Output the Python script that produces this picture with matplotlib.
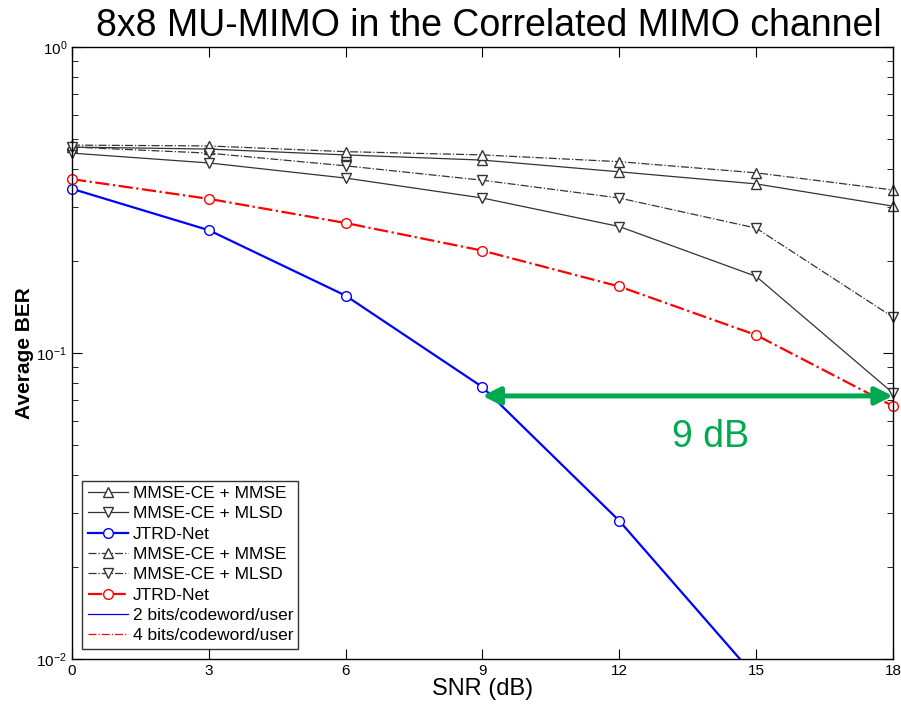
import matplotlib
matplotlib.use('Agg')
import matplotlib.pyplot as plt
import numpy as np

snr = [0, 3, 6, 9, 12, 15, 18]

# 2 bits/codeword/user (solid)
mmse_2b = [0.471, 0.464, 0.444, 0.427, 0.391, 0.357, 0.302]
mlsd_2b = [0.450, 0.418, 0.373, 0.321, 0.259, 0.178, 0.074]
jtrd_2b = [0.344, 0.252, 0.154, 0.0774, 0.0283, 0.0087]

# 4 bits/codeword/user (dash-dot)
mmse_4b = [0.478, 0.475, 0.455, 0.444, 0.422, 0.388, 0.341]
mlsd_4b = [0.471, 0.450, 0.409, 0.367, 0.321, 0.256, 0.131]
jtrd_4b = [0.370, 0.319, 0.266, 0.216, 0.165, 0.1145, 0.0671]

gap_start, gap_end, gap_ber = 9, 18, 0.0724
gap_label = "9 dB"

plt.rcParams['font.family'] = ['Liberation Sans', 'DejaVu Sans']

fig = plt.figure(figsize=(9.01, 7.09), dpi=100)
ax = fig.add_axes([0.0799, 0.0705, 0.9111, 0.8632])

gray = '#333333'
green = '#00A84F'
mk = dict(markerfacecolor='white', markersize=7, markeredgewidth=1.0)

ax.plot(snr, mmse_2b, '-', color=gray, lw=0.9, marker='^', markeredgecolor=gray,
        label='MMSE-CE + MMSE', clip_on=False, **mk)
ax.plot(snr, mlsd_2b, '-', color=gray, lw=0.9, marker='v', markeredgecolor=gray,
        label='MMSE-CE + MLSD', clip_on=False, **mk)
# blue curve runs below the axis: clip the line, keep visible markers whole
x_j2 = np.array(snr[:len(jtrd_2b)])
y_j2 = np.array(jtrd_2b)
ax.plot(x_j2, y_j2, '-', color='blue', lw=1.6)
inside = y_j2 >= 1e-2
ax.plot(x_j2[inside], y_j2[inside], 'o', color='blue', markeredgecolor='blue',
        clip_on=False, **mk)
ax.plot([], [], '-', color='blue', lw=1.6, marker='o', markeredgecolor='blue',
        label='JTRD-Net', **mk)
ax.plot(snr, mmse_4b, '-.', color=gray, lw=0.9, marker='^', markeredgecolor=gray,
        label='MMSE-CE + MMSE', clip_on=False, **mk)
ax.plot(snr, mlsd_4b, '-.', color=gray, lw=0.9, marker='v', markeredgecolor=gray,
        label='MMSE-CE + MLSD', clip_on=False, **mk)
ax.plot(snr, jtrd_4b, '-.', color='red', lw=1.6, marker='o', markeredgecolor='red',
        label='JTRD-Net', clip_on=False, **mk)
ax.plot([], [], '-', color='blue', lw=0.9, label='2 bits/codeword/user')
ax.plot([], [], '-.', color='red', lw=0.9, label='4 bits/codeword/user')

ax.set_yscale('log')
ax.set_xlim(0, 18)
ax.set_ylim(1e-2, 1)
ax.set_xticks(snr)
ax.tick_params(which='both', direction='in', top=True, right=True, labelsize=11)
ax.tick_params(which='major', length=7)
ax.tick_params(which='minor', length=4)
for s in ax.spines.values():
    s.set_linewidth(1.0)

ax.annotate('', xy=(gap_end, gap_ber), xytext=(gap_start, gap_ber),
            arrowprops=dict(arrowstyle='<|-|>', color=green, lw=3.6,
                            mutation_scale=26, shrinkA=0, shrinkB=0))
ax.text(14.0, 0.0531, gap_label, color=green, fontsize=27, ha='center', va='center')

ax.set_xlabel('SNR (dB)', fontsize=17, labelpad=0)
ax.set_ylabel('Average BER', fontsize=15, fontweight='bold', labelpad=2)
fig.text(0.543, 0.963, '8x8 MU-MIMO in the Correlated MIMO channel', fontsize=27,
         ha='center', va='center')

leg = ax.legend(loc='lower left', fontsize=12.5, frameon=True, fancybox=False,
                edgecolor='black', handlelength=2.3, handletextpad=0.3,
                labelspacing=0.3, borderpad=0.3, borderaxespad=0.6)
leg.get_frame().set_linewidth(1.0)

fig.savefig('out.png', dpi=100)
